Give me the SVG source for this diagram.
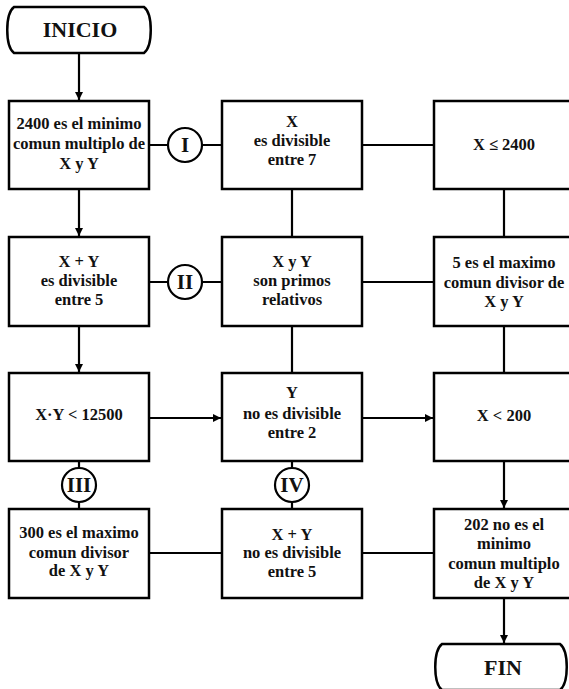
<svg xmlns="http://www.w3.org/2000/svg" width="569" height="689" viewBox="0 0 569 689">
<style>
.box{fill:#fff;stroke:#000;stroke-width:2.5}
.term{fill:#fff;stroke:#000;stroke-width:2.5}
.circ{fill:#fff;stroke:#000;stroke-width:2.2}
.ln{fill:none;stroke:#000;stroke-width:2.2}
.arr{fill:none;stroke:#000;stroke-width:2.2;marker-end:url(#ah)}
text{font-family:"Liberation Serif","Times New Roman",serif;font-weight:bold;font-size:16.5px;text-anchor:middle;fill:#111}
.big{font-size:22px}
.rom{font-size:21px}
</style>
<defs>
<marker id="ah" markerWidth="10" markerHeight="10" refX="9" refY="5" orient="auto" markerUnits="userSpaceOnUse">
<path d="M1,1 L9,5 L1,9 Z" fill="#000"/>
</marker>
</defs>
<rect width="569" height="689" fill="#fff"/>
<g id="connectors">
<line class="arr" x1="79" y1="53" x2="79" y2="100"/>
<line class="arr" x1="79" y1="189" x2="79" y2="236"/>
<line class="arr" x1="79" y1="326" x2="79" y2="372"/>
<line class="ln" x1="149" y1="145" x2="222" y2="145"/>
<line class="ln" x1="362" y1="145" x2="434" y2="145"/>
<line class="ln" x1="292" y1="189" x2="292" y2="237"/>
<line class="ln" x1="504" y1="189" x2="504" y2="237"/>
<line class="ln" x1="149" y1="282" x2="222" y2="282"/>
<line class="ln" x1="362" y1="282" x2="434" y2="282"/>
<line class="ln" x1="292" y1="326" x2="292" y2="373"/>
<line class="ln" x1="504" y1="326" x2="504" y2="373"/>
<line class="arr" x1="149" y1="418" x2="221" y2="418"/>
<line class="arr" x1="362" y1="418" x2="433" y2="418"/>
<line class="ln" x1="79" y1="461" x2="79" y2="509"/>
<line class="ln" x1="292" y1="461" x2="292" y2="509"/>
<line class="ln" x1="149" y1="553" x2="222" y2="553"/>
<line class="ln" x1="362" y1="553" x2="434" y2="553"/>
<line class="arr" x1="504" y1="461" x2="504" y2="508"/>
<line class="arr" x1="504" y1="598" x2="504" y2="643"/>
</g>
<g id="inicio">
<path class="term" d="M14,7 H144 C153,14 153,46 144,53 H14 C5,46 5,14 14,7 Z"/>
<text class="big" x="80" y="37">INICIO</text>
</g>
<g id="n1">
<rect class="box" x="9" y="101" width="140" height="88"/>
<text x="79" y="129">2400 es el minimo</text>
<text x="79" y="149">comun multiplo de</text>
<text x="79" y="169">X y Y</text>
</g>
<g id="cI">
<circle class="circ" cx="185" cy="145" r="17"/>
<text class="rom" x="185" y="152">I</text>
</g>
<g id="n2">
<rect class="box" x="222" y="101" width="140" height="88"/>
<text x="292" y="127">X</text>
<text x="292" y="146">es divisible</text>
<text x="292" y="165">entre 7</text>
</g>
<g id="n3">
<rect class="box" x="434" y="101" width="140" height="88"/>
<text x="504" y="150">X ≤ 2400</text>
</g>
<g id="n4">
<rect class="box" x="9" y="237" width="140" height="89"/>
<text x="79" y="267">X + Y</text>
<text x="79" y="286">es divisible</text>
<text x="79" y="305">entre 5</text>
</g>
<g id="cII">
<circle class="circ" cx="185" cy="282" r="17"/>
<text class="rom" x="185" y="289">II</text>
</g>
<g id="n5">
<rect class="box" x="222" y="237" width="140" height="89"/>
<text x="292" y="267">X y Y</text>
<text x="292" y="286">son primos</text>
<text x="292" y="305">relativos</text>
</g>
<g id="n6">
<rect class="box" x="434" y="237" width="140" height="89"/>
<text x="504" y="268">5 es el maximo</text>
<text x="504" y="288">comun divisor de</text>
<text x="504" y="307">X y Y</text>
</g>
<g id="n7">
<rect class="box" x="9" y="373" width="140" height="88"/>
<text x="79" y="420">X·Y &lt; 12500</text>
</g>
<g id="n8">
<rect class="box" x="222" y="373" width="140" height="88"/>
<text x="292" y="398">Y</text>
<text x="292" y="419">no es divisible</text>
<text x="292" y="438">entre 2</text>
</g>
<g id="n9">
<rect class="box" x="434" y="373" width="140" height="88"/>
<text x="504" y="421">X &lt; 200</text>
</g>
<g id="cIII">
<circle class="circ" cx="79" cy="485" r="17"/>
<text class="rom" x="79" y="492">III</text>
</g>
<g id="cIV">
<circle class="circ" cx="292" cy="485" r="17"/>
<text class="rom" x="292" y="492">IV</text>
</g>
<g id="n10">
<rect class="box" x="9" y="509" width="140" height="89"/>
<text x="79" y="538">300 es el maximo</text>
<text x="79" y="558">comun divisor</text>
<text x="79" y="576">de X y Y</text>
</g>
<g id="n11">
<rect class="box" x="222" y="509" width="140" height="89"/>
<text x="292" y="540">X + Y</text>
<text x="292" y="558">no es divisible</text>
<text x="292" y="577">entre 5</text>
</g>
<g id="n12">
<rect class="box" x="434" y="509" width="140" height="89"/>
<text x="504" y="530">202 no es el</text>
<text x="504" y="549">minimo</text>
<text x="504" y="569">comun multiplo</text>
<text x="504" y="588">de X y Y</text>
</g>
<g id="fin">
<path class="term" d="M442,644 H560 C569,651 569,683 560,690 H442 C433,683 433,651 442,644 Z"/>
<text class="big" x="503" y="675">FIN</text>
</g>
</svg>
